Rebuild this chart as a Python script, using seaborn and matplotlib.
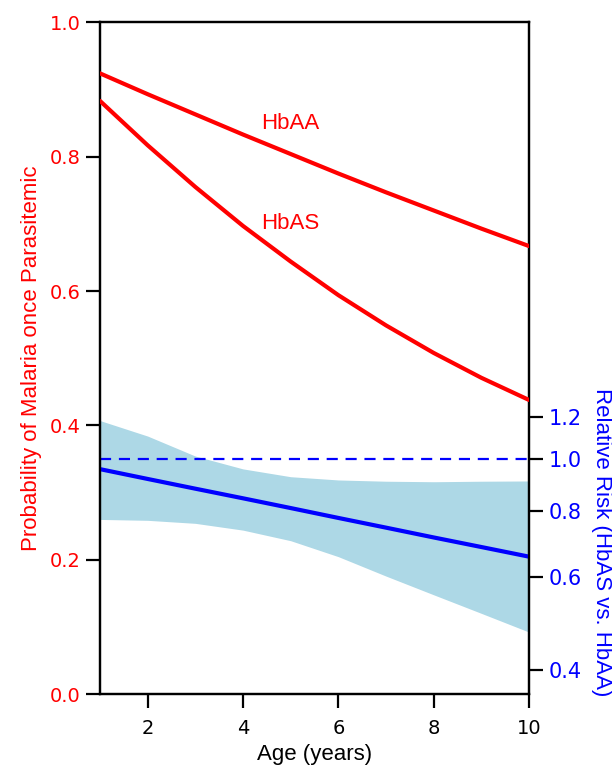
import matplotlib
matplotlib.use("Agg")
import matplotlib.pyplot as plt
import seaborn as sns
import pandas as pd
from matplotlib.ticker import NullLocator

# ---- data ----
ages = [1, 2, 3, 4, 5, 6, 7, 8, 9, 10]
p_hbaa = [0.924, 0.893, 0.863, 0.833, 0.804, 0.775, 0.747, 0.720, 0.693, 0.667]
p_hbas = [0.883, 0.817, 0.755, 0.697, 0.644, 0.594, 0.549, 0.508, 0.471, 0.438]
rr = [0.958, 0.918, 0.880, 0.844, 0.809, 0.775, 0.743, 0.712, 0.683, 0.655]
rr_upper = [1.183, 1.106, 1.014, 0.959, 0.927, 0.914, 0.909, 0.907, 0.909, 0.910]
rr_lower = [0.770, 0.767, 0.757, 0.735, 0.702, 0.655, 0.602, 0.555, 0.512, 0.472]
rr_ref = 1.0
left_ticks = [0.0, 0.2, 0.4, 0.6, 0.8, 1.0]
right_ticks = [0.4, 0.6, 0.8, 1.0, 1.2]
x_ticks = [2, 4, 6, 8, 10]

sns.set_style("ticks")
plt.rcParams['font.family'] = ['Liberation Sans', 'DejaVu Sans']

RED = "#FF0000"
BLUE = "#0000FF"
BAND = "#ADD8E6"

df = pd.DataFrame({"age": ages, "HbAA": p_hbaa, "HbAS": p_hbas,
                   "rr": rr, "lo": rr_lower, "hi": rr_upper})

fig = plt.figure(figsize=(6.12, 7.65), dpi=100)
ax = fig.add_axes([100/612, 1-694.3/765, 429/612, 672/765])
ax2 = ax.twinx()

# left axis: probabilities
sns.lineplot(data=df, x="age", y="HbAA", ax=ax, color=RED, lw=3.0, zorder=3)
sns.lineplot(data=df, x="age", y="HbAS", ax=ax, color=RED, lw=3.0, zorder=3)
ax.text(5.0, 0.849, "HbAA", color=RED, fontsize=16, ha="center", va="center")
ax.text(5.0, 0.701, "HbAS", color=RED, fontsize=16, ha="center", va="center")

# right axis: relative risk (log)
ax2.set_yscale("log")
ax2.fill_between(df["age"], df["lo"], df["hi"], color=BAND, lw=0, zorder=1)
ax2.axhline(rr_ref, color=BLUE, lw=1.6, ls=(0, (5, 3.5)), zorder=2)
sns.lineplot(data=df, x="age", y="rr", ax=ax2, color=BLUE, lw=3.0, zorder=3)

ax.set_xlim(1, 10)
ax.set_ylim(0, 1.0)
ax2.set_ylim(0.3602, 6.675)

tickfont = ["DejaVu Sans"]
ax.set_xticks(x_ticks)
ax.set_xticklabels([str(t) for t in x_ticks], fontsize=14, family=tickfont, color="black")
ax.set_yticks(left_ticks)
ax.set_yticklabels([f"{t:.1f}" for t in left_ticks], fontsize=14, family=tickfont, color=RED)
ax2.set_yticks(right_ticks)
ax2.set_yticklabels([f"{t:.1f}" for t in right_ticks], fontsize=15, family=tickfont, color=BLUE)
ax2.yaxis.set_minor_locator(NullLocator())

for a in (ax, ax2):
    for s in a.spines.values():
        s.set_visible(True)
        s.set_linewidth(1.6)
        s.set_color("black")

ax.tick_params(axis="x", length=10, width=1.6, pad=8, color="black")
ax.tick_params(axis="y", length=10, width=1.6, pad=4, color="black")
ax2.tick_params(axis="y", which="major", length=10, width=1.6, pad=4, color="black")

ax.set_xlabel("Age (years)", fontsize=16, color="black")
ax.set_ylabel("Probability of Malaria once Parasitemic", fontsize=16, color=RED)
ax.yaxis.set_label_coords(-0.135, 0.5)
ax2.set_ylabel("Relative Risk (HbAS vs. HbAA)", fontsize=16, color=BLUE,
               rotation=270, va="center", ha="center")
ax2.yaxis.set_label_coords(1.169, 0.227)

ax.set_zorder(ax2.get_zorder() + 1)
ax.patch.set_visible(False)

fig.savefig("out.png", dpi=100)
